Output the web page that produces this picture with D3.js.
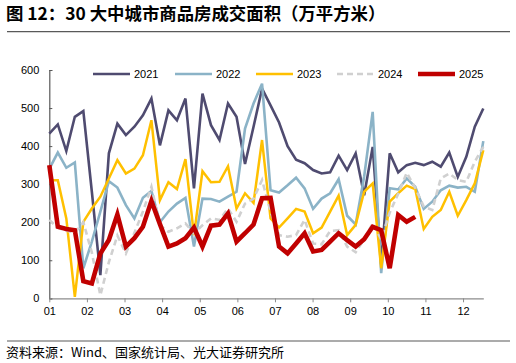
<!DOCTYPE html>
<html>
<head>
<meta charset="utf-8">
<script src="https://cdn.jsdelivr.net/npm/d3@7"></script>
<style>
  body { margin: 0; background: #fff; }
</style>
</head>
<body>
<div id="chart"></div>
<script>
'use strict';

// weekly values, 万平方米
var y2021 = [433, 457, 387, 477, 492, 280, 61, 381, 459, 429, 451, 481, 525, 402, 494, 468, 525, 289, 538, 455, 416, 512, 477, 353, 451, 551,
    507, 462, 400, 364, 355, 337, 328, 331, 375, 337, 381, 271, 398, 90, 381, 331, 350, 356, 350, 359, 346, 383, 319, 372, 451, 499];
var y2022 = [340, 383, 343, 357, 79, 149, 228, 308, 291, 245, 210, 264, 282, 200, 228, 249, 264, 136, 262, 261, 254, 267, 280, 446, 512, 564,
    284, 278, 297, 317, 289, 235, 262, 276, 313, 217, 194, 320, 490, 66, 289, 286, 315, 293, 235, 254, 284, 296, 291, 293, 280, 413];
var y2023 = [310, 310, 210, 4, 201, 236, 267, 315, 363, 328, 341, 376, 468, 258, 305, 287, 366, 166, 334, 305, 306, 347, 236, 276, 251, 416,
    210, 186, 210, 235, 228, 171, 186, 228, 270, 166, 193, 280, 302, 79, 254, 276, 296, 287, 182, 214, 232, 280, 217, 258, 302, 389];
var y2024 = [206, 185, 178, 172, 200, 120, 8, 95, 165, 118, 172, 228, 293, 192, 175, 184, 197, 171, 192, 210, 206, 236, 201, 249, 262, 311,
    228, 166, 162, 166, 206, 144, 142, 177, 179, 136, 121, 155, 197, 155, 225, 275, 330, 290, 241, 232, 315, 328, 311, 306, 359, 398];
var y2025 = [350, 188, 182, 179, 45, 39, 118, 153, 220, 136, 158, 188, 256, 195, 136, 144, 158, 186, 136, 191, 194, 223, 149, 171, 194, 263,
    264, 136, 118, 144, 171, 123, 127, 149, 171, 153, 136, 155, 188, 179, 79, 219, 201, 214];

var monthLabels = ["01", "02", "03", "04", "05", "06", "07", "08", "09", "10", "11", "12"];
var yTicks = [0, 100, 200, 300, 400, 500, 600];

var seriesNames = ["2021", "2022", "2023", "2024", "2025"];
var seriesValues = [y2021, y2022, y2023, y2024, y2025];

var styles = {
    "2021": {color: "#4f4b70", width: 2.6, dash: null},
    "2022": {color: "#8bb3c7", width: 2.6, dash: null},
    "2023": {color: "#ffc000", width: 2.5, dash: null},
    "2024": {color: "#d0d0d0", width: 2.6, dash: "6,4"},
    "2025": {color: "#c00000", width: 4.6, dash: null}
};

var drawChart = function () {
    var width = 516;
    var height = 363;
    var left = 49.3, right = 483.3, top = 70, bottom = 298.3;
    var weeksPerMonth = 4.42;
    var sansFont = "'Liberation Sans', Arial, sans-serif";
    var cjkFont = "'Noto Sans CJK SC', 'Noto Sans', sans-serif";

    var svg = d3.select("#chart")
        .append("svg")
        .attr("width", width)
        .attr("height", height);

    // title
    svg.append("text")
        .attr("x", 6)
        .attr("y", 20)
        .style("font-family", cjkFont)
        .style("font-size", "17.4px")
        .style("font-weight", "bold")
        .style("fill", "#000")
        .text("图 12：30 大中城市商品房成交面积（万平方米）");

    svg.append("line")
        .attr("x1", 7).attr("x2", 510)
        .attr("y1", 31.7).attr("y2", 31.7)
        .style("stroke", "#595959")
        .style("stroke-width", 1.3);

    var x = d3.scaleLinear().domain([0, 51]).range([left, right]);
    var y = d3.scaleLinear().domain([0, 600]).range([bottom, top]);

    // y axis
    var yAxis = svg.append("g")
        .attr("transform", "translate(" + left + ",0)")
        .call(d3.axisLeft(y).tickValues(yTicks).tickSize(-3).tickPadding(10));
    yAxis.select(".domain").style("stroke", "#595959").style("stroke-width", 1.2);
    yAxis.selectAll(".tick line").style("stroke", "#595959");
    yAxis.selectAll("text")
        .style("font-family", sansFont)
        .style("font-size", "11px")
        .style("fill", "#000");

    // x axis, month ticks
    var monthTicks = monthLabels.map(function (d, i) {
        return i * weeksPerMonth;
    });
    var xAxis = svg.append("g")
        .attr("transform", "translate(0," + bottom + ")")
        .call(d3.axisBottom(x)
            .tickValues(monthTicks)
            .tickFormat(function (d, i) { return monthLabels[i]; })
            .tickSizeInner(4)
            .tickSizeOuter(0)
            .tickPadding(5));
    xAxis.select(".domain").style("stroke", "#8c8c8c").style("stroke-width", 1.2);
    xAxis.selectAll(".tick line").style("stroke", "#8c8c8c");
    xAxis.selectAll("text")
        .style("font-family", sansFont)
        .style("font-size", "11px")
        .style("fill", "#000");

    var line = d3.line()
        .x(function (d, i) { return x(i); })
        .y(function (d) { return y(d); })
        .curve(d3.curveLinear);

    svg.selectAll("path.series")
        .data(seriesNames)
        .enter()
        .append("path")
        .attr("class", "series")
        .attr("d", function (d, i) { return line(seriesValues[i]); })
        .style("fill", "none")
        .style("stroke", function (d) { return styles[d].color; })
        .style("stroke-width", function (d) { return styles[d].width; })
        .style("stroke-dasharray", function (d) { return styles[d].dash; })
        .style("stroke-linejoin", "miter");

    // legend
    var legendX = [93, 175, 256, 337, 418];
    var legend = svg.selectAll("g.legend")
        .data(seriesNames)
        .enter()
        .append("g")
        .attr("class", "legend")
        .attr("transform", function (d, i) { return "translate(" + legendX[i] + ",74)"; });

    legend.append("line")
        .attr("x1", 0).attr("x2", 37)
        .attr("y1", 0).attr("y2", 0)
        .style("stroke", function (d) { return styles[d].color; })
        .style("stroke-width", function (d) { return styles[d].width; })
        .style("stroke-dasharray", function (d) { return styles[d].dash; });

    legend.append("text")
        .attr("x", 41)
        .attr("y", 4)
        .style("font-family", sansFont)
        .style("font-size", "11px")
        .style("fill", "#000")
        .text(function (d) { return d; });

    // source
    svg.append("line")
        .attr("x1", 7).attr("x2", 510)
        .attr("y1", 341).attr("y2", 341)
        .style("stroke", "#595959")
        .style("stroke-width", 1.2);

    svg.append("text")
        .attr("x", 6)
        .attr("y", 357)
        .style("font-family", cjkFont)
        .style("font-size", "13px")
        .style("fill", "#000")
        .text("资料来源：Wind、国家统计局、光大证券研究所");
};

drawChart();
</script>
</body>
</html>
